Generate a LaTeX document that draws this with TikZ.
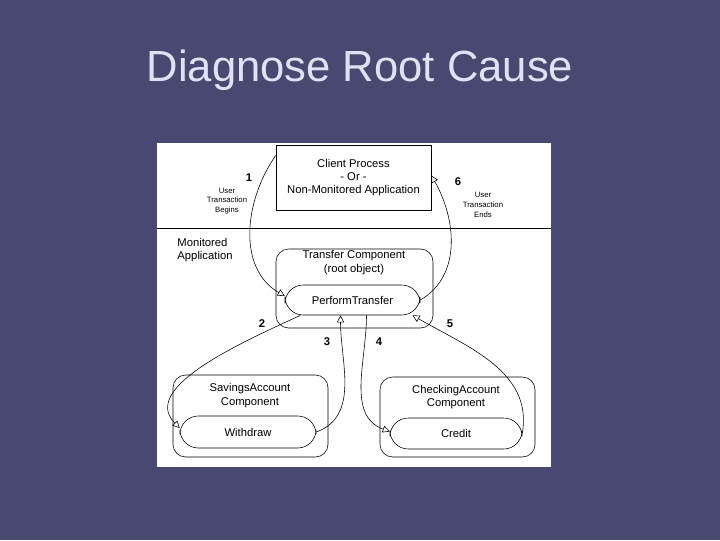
\documentclass[tikz,border=0pt]{standalone}
\usepackage{fontspec}
\setmainfont{Liberation Sans}
\usetikzlibrary{arrows.meta}
\definecolor{slide}{RGB}{72,72,112}
\definecolor{titletext}{RGB}{225,225,245}
\begin{document}
\begin{tikzpicture}[x=0.025cm,y=-0.025cm,
  box/.style={draw,thin,font=\fontsize{8}{9.5}\selectfont,align=center},
  comp/.style={draw,thin,rounded corners=9pt,inner sep=0pt},
  pill/.style={draw,thin,rounded corners=13pt,fill=white,inner sep=0pt,font=\fontsize{8}{9.5}\selectfont},
  stepno/.style={font=\bfseries\fontsize{8}{9}\selectfont},
  note/.style={font=\fontsize{5.5}{7}\selectfont,align=center},
  flow/.style={thin,-{Triangle[open,length=5pt,width=5pt]}}]
% Slide background
\fill[slide] (0,0) rectangle (720,540);
\useasboundingbox (0,0) rectangle (720,540);
\node[text=titletext,font=\fontsize{31}{35}\selectfont] (title) at (360,70) {Diagnose Root Cause};

% Diagram panel
\fill[white] (157,143) rectangle (551,467);
\draw[thin] (157,228) -- (551,228);

% Components
\node[box,minimum width=155*0.025cm,minimum height=65*0.025cm] (client) at (353.5,177.5) {Client Process\\- Or -\\Non-Monitored Application};
\node[comp,minimum width=157*0.025cm,minimum height=79*0.025cm] (transfer) at (354.5,288.5) {};
\node[font=\fontsize{8}{9.5}\selectfont,align=center] (transferlbl) at (354,262.5) {Transfer Component\\(root object)};
\node[pill,minimum width=135*0.025cm,minimum height=30*0.025cm] (perform) at (352.5,300) {PerformTransfer};
\node[comp,minimum width=155*0.025cm,minimum height=82*0.025cm] (savings) at (250.5,416) {};
\node[font=\fontsize{8}{9.5}\selectfont,align=center] (savingslbl) at (250,395.5) {SavingsAccount\\Component};
\node[pill,minimum width=136*0.025cm,minimum height=32*0.025cm] (withdraw) at (248,432) {Withdraw};
\node[comp,minimum width=155*0.025cm,minimum height=80*0.025cm] (checking) at (457.5,417) {};
\node[font=\fontsize{8}{9.5}\selectfont,align=center] (checkinglbl) at (456,397) {CheckingAccount\\Component};
\node[pill,minimum width=132*0.025cm,minimum height=31*0.025cm] (credit) at (456,433.5) {Credit};

% Labels
\node[font=\fontsize{8}{9.5}\selectfont,align=left] (monitored) at (205,250) {Monitored\\Application};
\node[stepno] (s1) at (249,178) {1};
\node[note] (begins) at (227,201) {User\\Transaction\\Begins};
\node[stepno] (s6) at (458,182) {6};
\node[note] (ends) at (483,205) {User\\Transaction\\Ends};
\node[stepno] (s2) at (262,324) {2};
\node[stepno] (s3) at (327,342) {3};
\node[stepno] (s4) at (379,342) {4};
\node[stepno] (s5) at (450,324) {5};

% Calls
\draw[flow] (client.west) ++(0,-22) to[out=235,in=150] ([yshift=0.1cm]perform.west);
\draw[flow] (perform.east) to[out=30,in=300] ([yshift=0.05cm]client.east);
\draw[flow] ([xshift=-1.3cm]perform.south) to[out=205,in=135,looseness=0.9] ([yshift=0.1cm]withdraw.west);
\draw[flow] (withdraw.east) to[out=20,in=270] ([xshift=-0.3cm]perform.south);
\draw[flow] ([xshift=0.35cm]perform.south) to[out=270,in=160] ([yshift=0.05cm]credit.west);
\draw[flow] (credit.east) to[out=80,in=330] ([xshift=1.5cm]perform.south);
\end{tikzpicture}
\end{document}
